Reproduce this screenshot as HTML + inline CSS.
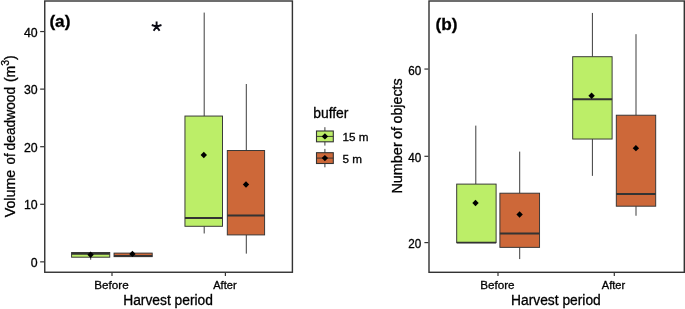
<!DOCTYPE html>
<html><head><meta charset="utf-8"><title>boxplots</title>
<style>
html,body{margin:0;padding:0;background:#fff;}
body{width:685px;height:309px;overflow:hidden;}
svg{display:block;}
text{font-family:"Liberation Sans",sans-serif;fill:#000000;stroke:#000000;stroke-width:0.3px;}
</style></head><body>
<div style="will-change:transform;width:685px;height:309px;"><svg width="685" height="309" viewBox="0 0 685 309">
<rect x="0" y="0" width="685" height="309" fill="#ffffff"/>
<g id="panelA">
<line x1="90.70" y1="252.50" x2="90.70" y2="252.50" stroke="#333333" stroke-width="0.95"/>
<line x1="90.70" y1="257.20" x2="90.70" y2="259.70" stroke="#333333" stroke-width="0.95"/>
<rect x="71.60" y="252.50" width="38.15" height="4.70" fill="#BCEE68" stroke="#333333" stroke-width="0.95"/>
<line x1="71.60" y1="253.85" x2="109.75" y2="253.85" stroke="#333333" stroke-width="1.90"/>
<path d="M90.60 251.60 L93.80 254.80 L90.60 258.00 L87.40 254.80 Z" fill="#000"/>
<line x1="133.00" y1="253.10" x2="133.00" y2="253.10" stroke="#333333" stroke-width="0.95"/>
<line x1="133.00" y1="256.65" x2="133.00" y2="256.65" stroke="#333333" stroke-width="0.95"/>
<rect x="114.05" y="253.10" width="38.15" height="3.55" fill="#CD6839" stroke="#333333" stroke-width="0.95"/>
<line x1="114.05" y1="255.90" x2="152.20" y2="255.90" stroke="#333333" stroke-width="1.90"/>
<path d="M132.40 250.70 L135.60 253.90 L132.40 257.10 L129.20 253.90 Z" fill="#000"/>
<line x1="204.20" y1="12.58" x2="204.20" y2="116.05" stroke="#333333" stroke-width="0.95"/>
<line x1="204.20" y1="226.28" x2="204.20" y2="233.48" stroke="#333333" stroke-width="0.95"/>
<rect x="184.95" y="116.05" width="37.55" height="110.23" fill="#BCEE68" stroke="#333333" stroke-width="0.95"/>
<line x1="184.95" y1="217.94" x2="222.50" y2="217.94" stroke="#333333" stroke-width="1.90"/>
<path d="M203.80 151.77 L207.00 154.97 L203.80 158.17 L200.60 154.97 Z" fill="#000"/>
<line x1="246.30" y1="84.00" x2="246.30" y2="150.53" stroke="#333333" stroke-width="0.95"/>
<line x1="246.30" y1="234.92" x2="246.30" y2="253.64" stroke="#333333" stroke-width="0.95"/>
<rect x="227.30" y="150.53" width="37.30" height="84.38" fill="#CD6839" stroke="#333333" stroke-width="0.95"/>
<line x1="227.30" y1="215.53" x2="264.60" y2="215.53" stroke="#333333" stroke-width="1.90"/>
<path d="M246.00 181.32 L249.20 184.52 L246.00 187.72 L242.80 184.52 Z" fill="#000"/>
<path d="M156.60 26.60 L156.60 21.50 M156.60 26.60 L151.75 25.02 M156.60 26.60 L153.60 30.73 M156.60 26.60 L159.60 30.73 M156.60 26.60 L161.45 25.02" stroke="#0a0a14" stroke-width="1.9" fill="none" stroke-linecap="butt"/>
<rect x="44.75" y="1.00" width="247.65" height="271.25" fill="none" stroke="#333333" stroke-width="1.42"/>
<line x1="40.15" y1="261.85" x2="44.15" y2="261.85" stroke="#333333" stroke-width="1.20"/>
<text x="37.6" y="266.85" font-size="12.3" text-anchor="end">0</text>
<line x1="40.15" y1="204.28" x2="44.15" y2="204.28" stroke="#333333" stroke-width="1.20"/>
<text x="37.6" y="209.28" font-size="12.3" text-anchor="end">10</text>
<line x1="40.15" y1="146.70" x2="44.15" y2="146.70" stroke="#333333" stroke-width="1.20"/>
<text x="37.6" y="151.70" font-size="12.3" text-anchor="end">20</text>
<line x1="40.15" y1="89.12" x2="44.15" y2="89.12" stroke="#333333" stroke-width="1.20"/>
<text x="37.6" y="94.12" font-size="12.3" text-anchor="end">30</text>
<line x1="40.15" y1="31.55" x2="44.15" y2="31.55" stroke="#333333" stroke-width="1.20"/>
<text x="37.6" y="36.55" font-size="12.3" text-anchor="end">40</text>
<line x1="112.00" y1="272.85" x2="112.00" y2="276.00" stroke="#333333" stroke-width="1.20"/>
<line x1="225.40" y1="272.85" x2="225.40" y2="276.00" stroke="#333333" stroke-width="1.20"/>
<text x="111.5" y="289.2" font-size="11.3" text-anchor="middle" textLength="34.4" lengthAdjust="spacingAndGlyphs">Before</text>
<text x="224.9" y="289.2" font-size="11.3" text-anchor="middle" textLength="23.4" lengthAdjust="spacingAndGlyphs">After</text>
<text x="168.1" y="305.1" font-size="13.8" text-anchor="middle">Harvest period</text>
<text transform="translate(15.00,217.30) rotate(-90)" font-size="14" textLength="47.60" lengthAdjust="spacingAndGlyphs">Volume</text>
<text transform="translate(15.00,164.40) rotate(-90)" font-size="14" textLength="11.00" lengthAdjust="spacingAndGlyphs">of</text>
<text transform="translate(15.00,150.40) rotate(-90)" font-size="14" textLength="63.50" lengthAdjust="spacingAndGlyphs">deadwood</text>
<text transform="translate(15.00,82.10) rotate(-90)" font-size="14">(m<tspan font-size="10.5" dy="-6.3">3</tspan><tspan dy="6.3">)</tspan></text>
<text x="49.4" y="27.1" font-size="17.2" font-weight="bold">(a)</text>
</g>
<g id="legend">
<text x="313.2" y="117.5" font-size="13.9">buffer</text>
<line x1="324.90" y1="127.20" x2="324.90" y2="145.60" stroke="#333333" stroke-width="0.95"/>
<rect x="316.50" y="131.00" width="16.80" height="10.80" fill="#BCEE68" stroke="#333333" stroke-width="1.1"/>
<line x1="316.50" y1="136.40" x2="333.30" y2="136.40" stroke="#333333" stroke-width="0.95"/>
<path d="M324.90 133.20 L328.10 136.40 L324.90 139.60 L321.70 136.40 Z" fill="#000"/>
<line x1="324.90" y1="148.90" x2="324.90" y2="167.30" stroke="#333333" stroke-width="0.95"/>
<rect x="316.50" y="152.70" width="16.80" height="10.80" fill="#CD6839" stroke="#333333" stroke-width="1.1"/>
<line x1="316.50" y1="158.10" x2="333.30" y2="158.10" stroke="#333333" stroke-width="0.95"/>
<path d="M324.90 154.90 L328.10 158.10 L324.90 161.30 L321.70 158.10 Z" fill="#000"/>
<text x="342.6" y="141.1" font-size="11.7">15 m</text>
<text x="342.6" y="162.8" font-size="11.7">5 m</text>
</g>
<g id="panelB">
<line x1="475.80" y1="125.61" x2="475.80" y2="184.10" stroke="#333333" stroke-width="0.95"/>
<line x1="475.80" y1="242.60" x2="475.80" y2="242.60" stroke="#333333" stroke-width="0.95"/>
<rect x="456.70" y="184.10" width="39.40" height="58.50" fill="#BCEE68" stroke="#333333" stroke-width="0.95"/>
<line x1="456.70" y1="242.60" x2="496.10" y2="242.60" stroke="#333333" stroke-width="1.90"/>
<path d="M475.50 199.84 L478.70 203.04 L475.50 206.24 L472.30 203.04 Z" fill="#000"/>
<line x1="519.70" y1="151.61" x2="519.70" y2="193.20" stroke="#333333" stroke-width="0.95"/>
<line x1="519.70" y1="247.37" x2="519.70" y2="259.07" stroke="#333333" stroke-width="0.95"/>
<rect x="499.90" y="193.20" width="39.65" height="54.16" fill="#CD6839" stroke="#333333" stroke-width="0.95"/>
<line x1="499.90" y1="233.50" x2="539.55" y2="233.50" stroke="#333333" stroke-width="1.90"/>
<path d="M519.60 211.24 L522.80 214.44 L519.60 217.64 L516.40 214.44 Z" fill="#000"/>
<line x1="592.40" y1="12.95" x2="592.40" y2="56.71" stroke="#333333" stroke-width="0.95"/>
<line x1="592.40" y1="139.04" x2="592.40" y2="175.87" stroke="#333333" stroke-width="0.95"/>
<rect x="572.70" y="56.71" width="39.40" height="82.33" fill="#BCEE68" stroke="#333333" stroke-width="0.95"/>
<line x1="572.70" y1="99.18" x2="612.10" y2="99.18" stroke="#333333" stroke-width="1.90"/>
<path d="M591.60 92.51 L594.80 95.71 L591.60 98.91 L588.40 95.71 Z" fill="#000"/>
<line x1="636.00" y1="34.18" x2="636.00" y2="115.21" stroke="#333333" stroke-width="0.95"/>
<line x1="636.00" y1="206.20" x2="636.00" y2="215.74" stroke="#333333" stroke-width="0.95"/>
<rect x="616.30" y="115.21" width="39.40" height="90.99" fill="#CD6839" stroke="#333333" stroke-width="0.95"/>
<line x1="616.30" y1="194.07" x2="655.70" y2="194.07" stroke="#333333" stroke-width="1.90"/>
<path d="M635.90 144.94 L639.10 148.14 L635.90 151.34 L632.70 148.14 Z" fill="#000"/>
<rect x="429.00" y="1.00" width="255.30" height="271.30" fill="none" stroke="#333333" stroke-width="1.42"/>
<line x1="424.40" y1="242.60" x2="428.40" y2="242.60" stroke="#333333" stroke-width="1.20"/>
<text x="421.3" y="248.10" font-size="12.3" text-anchor="end" textLength="13.0" lengthAdjust="spacingAndGlyphs">20</text>
<line x1="424.40" y1="156.30" x2="428.40" y2="156.30" stroke="#333333" stroke-width="1.20"/>
<text x="421.3" y="161.80" font-size="12.3" text-anchor="end" textLength="13.0" lengthAdjust="spacingAndGlyphs">40</text>
<line x1="424.40" y1="69.05" x2="428.40" y2="69.05" stroke="#333333" stroke-width="1.20"/>
<text x="421.3" y="74.55" font-size="12.3" text-anchor="end" textLength="13.0" lengthAdjust="spacingAndGlyphs">60</text>
<line x1="498.00" y1="272.90" x2="498.00" y2="276.05" stroke="#333333" stroke-width="1.20"/>
<line x1="614.30" y1="272.90" x2="614.30" y2="276.05" stroke="#333333" stroke-width="1.20"/>
<text x="497.4" y="289.2" font-size="11.3" text-anchor="middle" textLength="34.4" lengthAdjust="spacingAndGlyphs">Before</text>
<text x="613.5" y="289.2" font-size="11.3" text-anchor="middle" textLength="23.4" lengthAdjust="spacingAndGlyphs">After</text>
<text x="555.9" y="305.1" font-size="13.8" text-anchor="middle">Harvest period</text>
<text transform="translate(402.30,193.60) rotate(-90)" font-size="14" textLength="51.30" lengthAdjust="spacingAndGlyphs">Number</text>
<text transform="translate(402.30,138.90) rotate(-90)" font-size="14" textLength="12.00" lengthAdjust="spacingAndGlyphs">of</text>
<text transform="translate(402.30,123.50) rotate(-90)" font-size="14" textLength="45.20" lengthAdjust="spacingAndGlyphs">objects</text>
<text x="435.6" y="29.7" font-size="17.2" font-weight="bold">(b)</text>
</g>
</svg></div>
</body></html>
